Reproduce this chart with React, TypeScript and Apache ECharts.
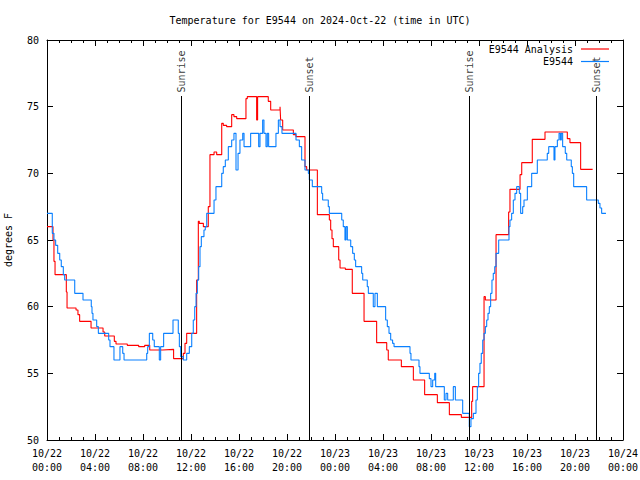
import { useEffect, useRef } from "react";
import * as echarts from "echarts";

const FONT = "'DejaVu Sans Mono', 'Liberation Mono', monospace";

const chartTitle = "Temperature for E9544 on 2024-Oct-22 (time in UTC)";
const yAxisName = "degrees F";
const seriesNames = ["E9544 Analysis", "E9544"];

const xTickLabels = [
  "10/22\n00:00", "10/22\n04:00", "10/22\n08:00", "10/22\n12:00", "10/22\n16:00",
  "10/22\n20:00", "10/23\n00:00", "10/23\n04:00", "10/23\n08:00", "10/23\n12:00",
  "10/23\n16:00", "10/23\n20:00", "10/24\n00:00",
];

// hours since 10/22 00:00 UTC
const analysisHours = [
  0, 0.5, 0.58, 0.67, 1.61, 1.67, 2.42, 2.58, 2.72, 3.67, 4.67, 4.81, 5.61, 5.75, 6.69,
  7.64, 8.14, 8.56, 9.64, 10.55, 11.36, 11.5, 11.64, 12.47, 12.61, 12.69, 13.03, 13.44,
  13.58, 13.92, 14.14, 14.56, 14.69, 14.97, 15.39, 15.58, 15.81, 16.58, 16.69, 17.47,
  17.55, 18.44, 18.64, 19.42, 19.47, 19.64, 20.53, 20.75, 21.5, 21.64, 22.53, 23.53,
  23.64, 23.75, 23.86, 24.31, 24.42, 24.86, 25.44, 26.42, 27.47, 28.31, 28.44, 29.53,
  30.53, 31.47, 32.53, 33.53, 34.53, 35.39, 35.47, 36.42, 36.53, 37.42, 38.47, 38.58,
  39.42, 39.56, 40.44, 41.5, 43.36, 43.58, 44.47, 45.47,
];
const analysisTemps = [
  66, 65, 63.4, 62.4, 61.1, 59.9, 59.75, 59.4, 58.9, 58.4, 58.1, 57.8, 57.4, 57.2, 57.1,
  57.0, 57.1, 56.75, 56.8, 56.1, 56.5, 57.25, 58, 62, 66.4, 66.25, 66, 67.5,
  71.4, 71.6, 71.4, 73.75, 73.6, 73.5, 74.4, 74.25, 74.1, 75.6, 75.75, 74,
  75.75, 75.4, 74.75, 75, 74, 73.25, 72.9, 72.75, 70.5, 70.25, 66.9, 66.5,
  65.75, 65.1, 64.5, 63.5, 62.9, 62.8, 61, 58.9, 57.3, 56.75, 56, 55.5,
  54.5, 53.4, 52.8, 51.9, 51.7, 52.9, 54, 60.75, 60.5, 65.4, 67.1, 68.8,
  69.9, 70.8, 72.55, 73.1, 72.6, 72.3, 70.3, 70.3,
];

const obsHours = [
  0, 0.44, 0.58, 0.72, 0.89, 1.06, 1.19, 1.36, 1.47, 2.31, 3.0, 3.69, 3.75, 3.83, 4.14,
  4.28, 5.14, 5.25, 5.58, 6.08, 6.31, 6.42, 8.31, 8.39, 8.53, 8.81, 8.94, 9.36, 9.47,
  9.72, 10.5, 10.94, 11.03, 11.14, 11.36, 11.64, 11.86, 12.06, 12.19, 12.31, 12.42,
  12.53, 12.64, 12.75, 12.86, 13.08, 13.19, 13.31, 13.92, 14.08, 14.56, 14.69, 14.86,
  15.11, 15.39, 15.58, 15.75, 15.92, 16.08, 16.31, 16.42, 16.97, 17.64, 17.75, 17.97,
  18.08, 18.25, 18.36, 18.47, 19.08, 19.28, 19.42, 19.58, 20.75, 21.03, 21.22, 21.5,
  21.78, 21.86, 22.11, 22.89, 22.97, 23.44, 23.53, 24.56, 24.69, 24.83, 24.92, 25.03,
  25.31, 25.47, 25.61, 25.72, 26.22, 26.31, 26.69, 26.78, 27.19, 27.33, 27.53, 28.22,
  28.36, 28.5, 28.64, 28.8, 28.92, 30.25, 30.33, 31.0, 31.08, 31.86, 32.0, 32.14,
  32.31, 32.39, 33.11, 33.25, 33.39, 33.86, 34.03, 34.64, 35.19, 35.33, 35.53, 35.75,
  35.86, 35.97, 36.08, 36.19, 36.31, 36.42, 36.53, 36.64, 36.75, 36.86, 36.97, 37.08,
  37.19, 37.31, 37.42, 37.64, 38.5, 38.58, 38.72, 38.86, 39.0, 39.14, 39.36, 39.47,
  39.64, 39.75, 40.03, 40.39, 40.86, 41.69, 41.81, 42.25, 42.33, 42.53, 42.67, 42.78,
  42.86, 42.97, 43.19, 43.31, 43.69, 43.78, 43.89, 44.97, 45.94, 46.08, 46.22, 46.58,
];
const obsTemps = [
  67, 65.5, 65, 64.6, 64, 63.5, 63, 62.4, 62, 61, 60.5, 60, 59.5, 59, 58.5,
  58, 57.5, 57, 56, 57, 56.5, 56, 56.5, 57, 58, 57.5, 57, 56, 57,
  58, 59, 58, 57, 56.25, 56, 56.5, 57, 58, 59, 60, 61,
  62, 63, 64.5, 65.25, 65.75, 66, 67, 68, 69, 70, 70.5, 71,
  72, 72.5, 73, 70.25, 71.5, 72.5, 73, 72, 73, 72, 73, 74,
  73, 72, 73, 72, 73, 74, 73.5, 73, 72.5, 72, 71, 70.25,
  70, 69.5, 69, 68.5, 68, 67.5, 67, 66.5, 66, 65, 66, 65,
  64.5, 64, 63.5, 63, 62.5, 62, 61.5, 61, 60, 61, 60, 59,
  58.5, 58, 57.5, 57.25, 57, 56.5, 56, 55.5, 55, 54.6, 54, 54.5,
  55, 54, 53, 53.5, 53, 54, 53, 52, 51, 51.6, 52, 53,
  54, 55, 55.75, 56.5, 57.5, 58, 58.5, 59, 59.5, 60, 61, 62,
  62.5, 63, 64, 65, 66, 66.5, 67, 68, 68.5, 69, 68.5, 67,
  67.5, 68, 69, 70, 71, 71.5, 72, 71, 72, 72.5, 73, 72.5,
  73, 72, 71.5, 71, 70.5, 70, 69, 68, 67.75, 67.4, 67, 67,
];

const sunEventHours = [11.19, 21.86, 35.19, 45.78];
const sunEventNames = ["Sunrise", "Sunset", "Sunrise", "Sunset"];
const sunLineTop = 75.8;

export default function App() {
  const ref = useRef<HTMLDivElement>(null);

  useEffect(() => {
    document.body.style.margin = "0";
    const chart = echarts.init(ref.current!, null, { renderer: "svg" });
    const textBase = { fontFamily: FONT, fontSize: 10, color: "#000" };

    const mkX = (pos: "bottom" | "top", labels: boolean) => ({
      type: "value",
      position: pos,
      min: 0,
      max: 48,
      interval: 4,
      axisLine: { show: true, onZero: false, lineStyle: { color: "#000", width: 1 } },
      axisTick: { show: true, inside: true, length: 6, lineStyle: { color: "#000" } },
      minorTick: { show: true, splitNumber: 4, length: 3, lineStyle: { color: "#000" } },
      splitLine: { show: false },
      minorSplitLine: { show: false },
      axisLabel: {
        show: labels,
        ...textBase,
        margin: 6,
        lineHeight: 14,
        formatter: (v: number) => xTickLabels[Math.round(v / 4)] ?? "",
      },
    });
    const mkY = (pos: "left" | "right", labels: boolean) => ({
      type: "value",
      position: pos,
      min: 50,
      max: 80,
      interval: 5,
      name: labels ? yAxisName : "",
      nameLocation: "middle",
      nameGap: 34,
      nameRotate: 90,
      nameTextStyle: { ...textBase },
      axisLine: { show: true, onZero: false, lineStyle: { color: "#000", width: 1 } },
      axisTick: { show: true, inside: true, length: 6, lineStyle: { color: "#000" } },
      splitLine: { show: false },
      axisLabel: { show: labels, ...textBase, margin: 8 },
    });

    chart.setOption({
      animation: false,
      backgroundColor: "#fff",
      title: {
        text: chartTitle,
        left: "center",
        top: 15,
        padding: 0,
        textStyle: { ...textBase, fontWeight: "normal" },
      },
      grid: {
        left: 47,
        right: 17,
        top: 40,
        bottom: 40,
        containLabel: false,
        outerBoundsMode: "none",
      },
      legend: {
        data: seriesNames,
        orient: "vertical",
        align: "right",
        right: 31,
        top: 43,
        padding: 0,
        itemGap: 0.5,
        itemWidth: 28,
        itemHeight: 1.2,
        icon: "rect",
        textStyle: { ...textBase, lineHeight: 12, padding: [0, 3, 0, 0] },
      },
      xAxis: [mkX("bottom", true), mkX("top", false)],
      yAxis: [mkY("left", true), mkY("right", false)],
      series: [
        {
          name: seriesNames[0],
          type: "line",
          step: "end",
          symbol: "none",
          xAxisIndex: 0,
          yAxisIndex: 0,
          color: "#ff0000",
          lineStyle: { color: "#ff0000", width: 1.1 },
          data: analysisHours.map((h, i) => [h, analysisTemps[i]]),
        },
        {
          name: seriesNames[1],
          type: "line",
          step: "end",
          symbol: "none",
          xAxisIndex: 0,
          yAxisIndex: 0,
          color: "#0a80ff",
          lineStyle: { color: "#0a80ff", width: 1.1 },
          data: obsHours.map((h, i) => [h, obsTemps[i]]),
        },
        {
          name: "sun",
          type: "scatter",
          xAxisIndex: 0,
          yAxisIndex: 0,
          symbolSize: 1,
          itemStyle: { color: "transparent" },
          silent: true,
          label: {
            show: true,
            formatter: "{b}",
            position: "top",
            distance: 3,
            rotate: 90,
            align: "left",
            verticalAlign: "middle",
            ...textBase,
          },
          data: sunEventHours.map((h, i) => ({ name: sunEventNames[i], value: [h, sunLineTop] })),
          markLine: {
            silent: true,
            symbol: ["none", "none"],
            label: { show: false },
            lineStyle: { color: "#000", width: 1, type: "solid" },
            data: sunEventHours.map((h) => [{ coord: [h, 50] }, { coord: [h, sunLineTop] }]),
          },
        },
      ],
    } as any);

    return () => chart.dispose();
  }, []);

  return (
    <div
      ref={ref}
      style={{ position: "fixed", left: 0, top: 0, width: 640, height: 480 }}
    />
  );
}
